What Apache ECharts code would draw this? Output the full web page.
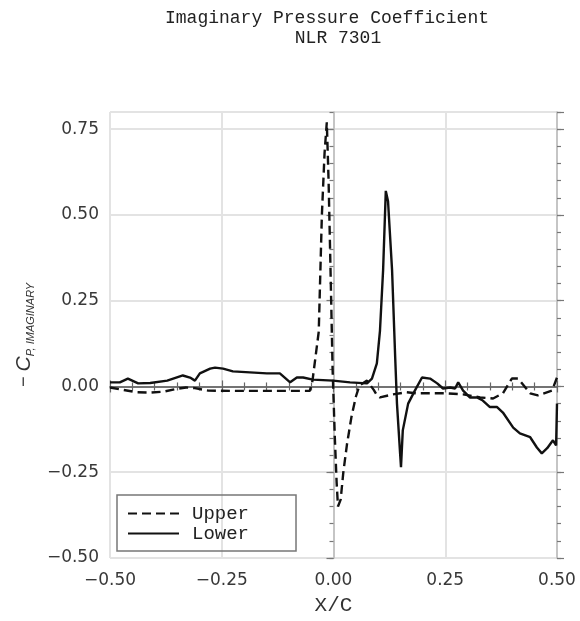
<!DOCTYPE html>
<html>
<head>
<meta charset="utf-8">
<script src="https://cdn.jsdelivr.net/npm/echarts@6/dist/echarts.min.js"></script>
<style>
  html, body { margin: 0; padding: 0; background: #fff; }
  #chart { width: 580px; height: 621px; }
</style>
</head>
<body>
<div id="chart"></div>
<script>
// Chordwise stations (X/C) and imaginary pressure coefficient, upper surface
const upperX  = [-0.5, -0.47, -0.44, -0.41, -0.38, -0.355, -0.33, -0.31, -0.28, -0.23, -0.16, -0.10, -0.053,
                 -0.047, -0.033, -0.026, -0.020, -0.015, -0.011, -0.006, -0.002, 0.003, 0.007, 0.010,
                 0.016, 0.022, 0.030, 0.040, 0.050, 0.058, 0.075, 0.090, 0.097, 0.104, 0.133, 0.164,
                 0.187, 0.216, 0.254, 0.290, 0.328, 0.357, 0.379, 0.399, 0.413, 0.440, 0.457, 0.489, 0.5];
const upperCp = [-0.003, -0.010, -0.017, -0.018, -0.015, -0.008, -0.003, -0.005, -0.012, -0.013, -0.013, -0.013, -0.013,
                 0.017, 0.16, 0.50, 0.68, 0.77, 0.60, 0.30, 0.05, -0.15, -0.28, -0.35,
                 -0.33, -0.25, -0.17, -0.09, -0.03, 0.003, 0.017, -0.010, -0.025, -0.032, -0.023, -0.017,
                 -0.020, -0.020, -0.020, -0.023, -0.032, -0.035, -0.020, 0.023, 0.023, -0.020, -0.026, -0.012, 0.026];

// Lower surface
const lowerX  = [-0.5, -0.478, -0.46, -0.437, -0.41, -0.372, -0.337, -0.321, -0.31, -0.299, -0.276, -0.265,
                 -0.247, -0.225, -0.187, -0.149, -0.12, -0.097, -0.082, -0.068, -0.046, -0.001, 0.037,
                 0.075, 0.086, 0.097, 0.104, 0.111, 0.117, 0.122, 0.131, 0.138, 0.142, 0.149, 0.151,
                 0.155, 0.167, 0.182, 0.198, 0.216, 0.232, 0.245, 0.261, 0.272, 0.279, 0.290, 0.305,
                 0.321, 0.334, 0.350, 0.366, 0.379, 0.402, 0.417, 0.440, 0.455, 0.466, 0.478, 0.491, 0.498, 0.5];
const lowerCp = [0.012, 0.012, 0.023, 0.009, 0.010, 0.017, 0.032, 0.026, 0.017, 0.038, 0.052, 0.055,
                 0.052, 0.044, 0.041, 0.038, 0.038, 0.012, 0.026, 0.026, 0.020, 0.017, 0.012,
                 0.009, 0.023, 0.067, 0.163, 0.34, 0.57, 0.54, 0.34, 0.085, -0.05, -0.195, -0.235,
                 -0.128, -0.05, -0.012, 0.026, 0.023, 0.009, -0.006, -0.003, -0.006, 0.012, -0.012, -0.032,
                 -0.032, -0.041, -0.06, -0.06, -0.076, -0.12, -0.137, -0.148, -0.178, -0.195, -0.18, -0.157, -0.172, -0.05];

// Axis ticks
const xTicks = [-0.5, -0.25, 0, 0.25, 0.5];
const yTicks = [-0.5, -0.25, 0, 0.25, 0.5, 0.75];
const yTop = 0.8;

const pairs = (xs, ys) => xs.map((x, i) => [x, ys[i]]);
const fmt = v => (v < 0 ? '\u2212' : '') + Math.abs(v).toFixed(2);

const labelFont = { fontFamily: 'DejaVu Sans', fontSize: 17, color: '#383838' };
const monoFont = 'Liberation Mono';
const gridColor = '#e3e3e3';

const xMajor = xTicks[1] - xTicks[0];
const yMajor = yTicks[1] - yTicks[0];

function xAxisDef(position, showLabel, lineColor) {
  return {
    type: 'value', position: position,
    min: xTicks[0], max: xTicks[xTicks.length - 1], interval: xMajor,
    axisLine: { show: true, lineStyle: { color: lineColor, width: 1.5 } },
    axisTick: { show: true, length: 6, lineStyle: { color: '#666', width: 1.2 } },
    minorTick: { show: true, splitNumber: 5, length: 4, lineStyle: { color: '#666', width: 1.2 } },
    splitLine: { show: position === 'bottom', lineStyle: { color: gridColor, width: 2 } },
    axisLabel: Object.assign({ show: showLabel, margin: 14, formatter: fmt }, labelFont),
    name: showLabel ? 'X/C' : '',
    nameLocation: 'middle', nameGap: 37,
    nameTextStyle: { fontFamily: monoFont, fontSize: 21, color: '#333' }
  };
}

function yAxisDef(position, major, showLabel) {
  return {
    type: 'value', position: position,
    min: yTicks[0], max: yTop, interval: major ? yMajor : 0.05,
    axisLine: { show: major, lineStyle: { color: '#bbb', width: 1.5 } },
    axisTick: { show: true, length: major ? 7 : 4, lineStyle: { color: '#777', width: 1.2 } },
    splitLine: { show: major && position === 'left', lineStyle: { color: gridColor, width: 2 } },
    axisLabel: Object.assign({ show: showLabel, showMaxLabel: false, margin: 11, formatter: fmt }, labelFont)
  };
}

const yLeft = yAxisDef('left', true, true);
yLeft.name = '{m|\u2212 }{c|C}{s|P, IMAGINARY}';
yLeft.nameLocation = 'middle';
yLeft.nameRotate = 90;
yLeft.nameGap = 74;
yLeft.nameTextStyle = {
  rich: {
    m: { fontFamily: 'Liberation Sans', fontSize: 18, color: '#333', lineHeight: 24 },
    c: { fontFamily: 'Liberation Sans', fontStyle: 'italic', fontSize: 21, color: '#333', lineHeight: 24 },
    s: { fontFamily: 'Liberation Sans', fontStyle: 'italic', fontSize: 11, color: '#333', lineHeight: 11, verticalAlign: 'bottom' }
  }
};

const chart = echarts.init(document.getElementById('chart'), null, { renderer: 'canvas' });
chart.setOption({
  animation: false,
  backgroundColor: '#fff',
  title: [
    { text: 'Imaginary Pressure Coefficient', left: 322, top: 4, textAlign: 'center',
      textStyle: { fontFamily: monoFont, fontSize: 18, fontWeight: 'normal', color: '#222' } },
    { text: 'NLR 7301', left: 333, top: 24, textAlign: 'center',
      textStyle: { fontFamily: monoFont, fontSize: 18, fontWeight: 'normal', color: '#222' } }
  ],
  grid: { left: 110, top: 112, width: 447, height: 446, containLabel: false },
  legend: {
    orient: 'vertical', left: 117, top: 495,
    padding: [9, 47, 8, 10], itemGap: 1, itemWidth: 51, itemHeight: 14,
    borderColor: '#777', borderWidth: 1.5,
    itemStyle: { opacity: 0 },
    textStyle: { fontFamily: monoFont, fontSize: 19, lineHeight: 16, color: '#222', padding: [0, 0, 0, 8] },
    data: ['Upper', 'Lower']
  },
  xAxis: [xAxisDef('bottom', true, '#888'), xAxisDef('top', false, '#666')],
  yAxis: [yLeft, yAxisDef('left', false, false), yAxisDef('right', true, false), yAxisDef('right', false, false)],
  series: [
    { name: 'Upper', type: 'line', symbol: 'none', data: pairs(upperX, upperCp),
      lineStyle: { color: '#111', width: 2.4, type: [9, 5] }, itemStyle: { color: '#111' } },
    { name: 'Lower', type: 'line', symbol: 'none', data: pairs(lowerX, lowerCp),
      lineStyle: { color: '#111', width: 2.4, type: 'solid' }, itemStyle: { color: '#111' } }
  ]
});
</script>
</body>
</html>
